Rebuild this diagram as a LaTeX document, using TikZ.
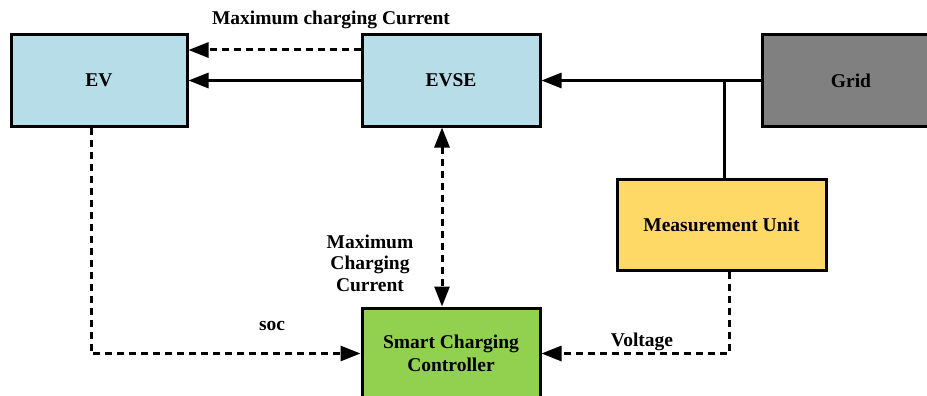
\documentclass[tikz,border=0pt]{standalone}
\usepackage{fontspec}
\setmainfont{Liberation Serif}
\usetikzlibrary{arrows.meta}
\definecolor{evblue}{HTML}{B7DDE8}
\definecolor{gridgray}{HTML}{808080}
\definecolor{muyellow}{HTML}{FFD966}
\definecolor{sccgreen}{HTML}{92D050}
\tikzset{
  blk/.style={draw=black, line width=3pt, minimum width=176pt, minimum height=91pt, inner sep=0pt, align=center, font=\fontsize{19.5}{22.5}\selectfont\bfseries},
  lbl/.style={align=center, inner sep=0pt, font=\fontsize{19.5}{21.5}\selectfont\bfseries},
  conn/.style={line width=3pt},
  dsh/.style={line width=3pt, dash pattern=on 7pt off 5pt},
  tip/.style={-{Triangle[length=20pt,width=15pt]}},
  tips/.style={{Triangle[length=20pt,width=15pt]}-{Triangle[length=20pt,width=15pt]}}
}
\begin{document}
\begin{tikzpicture}[x=1pt,y=-1pt]
\useasboundingbox (0,0) rectangle (927,396);
\begin{scope}
\clip (0,0) rectangle (927,396);
\node[blk, fill=evblue] (EV) at (99,80.5) {EV};
\node[blk, fill=evblue, minimum width=178pt] (EVSE) at (451,80.5) {EVSE};
\node[blk, fill=gridgray, minimum width=178pt] (Grid) at (851,80.5) {Grid};
\node[blk, fill=muyellow, minimum width=209pt] (MU) at (721.5,224.5) {Measurement Unit};
\node[blk, fill=sccgreen, minimum width=178pt] (SCC) at (451,353.5) {Smart Charging\\Controller};
\end{scope}
\coordinate (J) at (724,80.5);
\draw[dsh,tip] ([yshift=30.5pt]EVSE.west) -- ([yshift=30.5pt]EV.east);
\draw[conn,tip] (EVSE.west) -- (EV.east);
\draw[conn,tip] (Grid.west) -- (EVSE.east);
\draw[conn] (J) -- (J |- MU.north);
\draw[dsh,tips] ([xshift=-9pt]EVSE.south) -- ([xshift=-9pt]SCC.north);
\draw[dsh,tip] ([xshift=-8pt]EV.south) |- (SCC.west);
\draw[dsh,tip] ([xshift=7.5pt]MU.south) |- (SCC.east);
\node[lbl] (l1) at (331,20) {Maximum charging Current};
\node[lbl] (l2) at (370,263) {Maximum\\Charging\\Current};
\node[lbl] (l3) at (272,326) {soc};
\node[lbl] (l4) at (642,342) {Voltage};
\end{tikzpicture}
\end{document}
